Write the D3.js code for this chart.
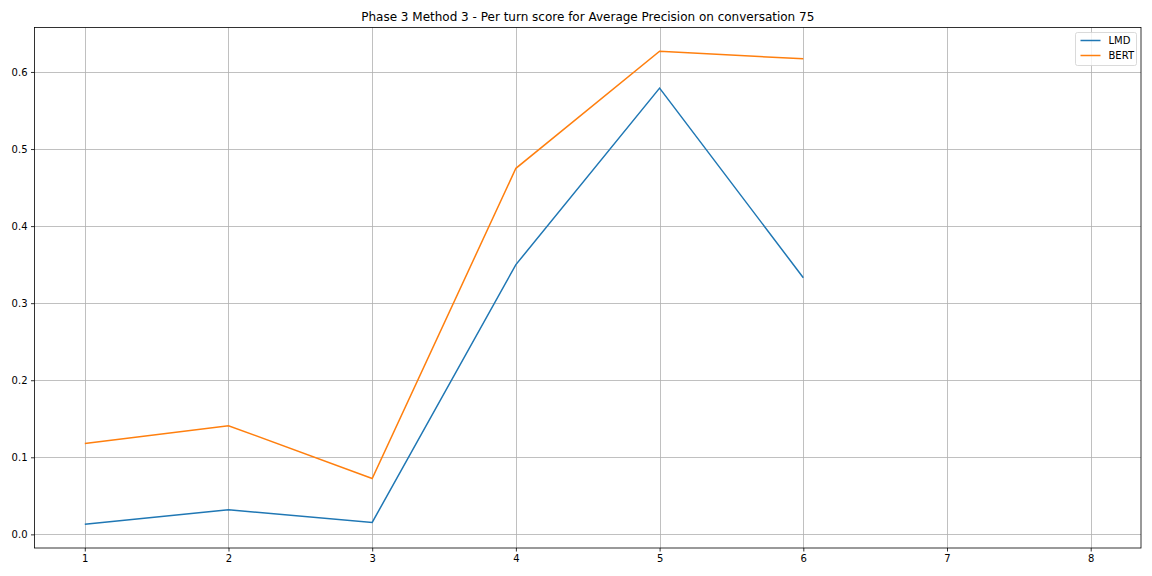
<!DOCTYPE html>
<html>
<head>
<meta charset="utf-8">
<script src="https://cdn.jsdelivr.net/npm/d3@7"></script>
<style>
  body { margin: 0; background: #fff; }
  text { font-family: "DejaVu Sans", sans-serif; }
</style>
</head>
<body>
<div class="svg-container"></div>
<script>
const turns = [1, 2, 3, 4, 5, 6];
const lmd = [0.013, 0.032, 0.0155, 0.350, 0.579, 0.333];
const bert = [0.118, 0.141, 0.0725, 0.475, 0.627, 0.617];
const xTicks = [1, 2, 3, 4, 5, 6, 7, 8];
const yTicks = [0.0, 0.1, 0.2, 0.3, 0.4, 0.5, 0.6];
const seriesNames = ['LMD', 'BERT'];
const colors = ['#1f77b4', '#ff7f0e'];

const outerWidth = 1152;
const outerHeight = 576;
const margin = { left: 34.5, top: 27.5, right: 11, bottom: 28 };

const svg = d3.select('.svg-container')
.append('svg')
.attr('width', outerWidth)
.attr('height', outerHeight);

const xScale = d3.scaleLinear()
.domain([0.65, 8.35])
.range([margin.left, outerWidth - margin.right]);

const yScale = d3.scaleLinear()
.domain([-0.0177, 0.6577])
.range([outerHeight - margin.bottom, margin.top]);

// grid
svg.append('g')
.selectAll('line')
.data(xTicks)
.enter()
.append('line')
.attr('x1', d => Math.round(xScale(d)) + 0.5)
.attr('x2', d => Math.round(xScale(d)) + 0.5)
.attr('y1', margin.top)
.attr('y2', outerHeight - margin.bottom)
.attr('stroke', '#b0b0b0')
.attr('stroke-width', 0.8);

svg.append('g')
.selectAll('line')
.data(yTicks)
.enter()
.append('line')
.attr('x1', margin.left)
.attr('x2', outerWidth - margin.right)
.attr('y1', d => Math.round(yScale(d)) + 0.5)
.attr('y2', d => Math.round(yScale(d)) + 0.5)
.attr('stroke', '#b0b0b0')
.attr('stroke-width', 0.8);

// lines
const line = d3.line()
.x((d, i) => xScale(turns[i]))
.y(d => yScale(d));

[lmd, bert].forEach((s, k) => {
  svg.append('path')
  .datum(s)
  .attr('d', line)
  .attr('fill', 'none')
  .attr('stroke', colors[k])
  .attr('stroke-width', 1.5);
});

// axes
const xAxis = d3.axisBottom(xScale).tickValues(xTicks).tickSize(3.5).tickPadding(3.5).tickFormat(d3.format('d'));
const yAxis = d3.axisLeft(yScale).tickValues(yTicks).tickSize(3.5).tickPadding(3.5).tickFormat(d3.format('.1f'));

const gx = svg.append('g')
.attr('transform', `translate(0, ${outerHeight - margin.bottom})`)
.call(xAxis);
const gy = svg.append('g')
.attr('transform', `translate(${margin.left}, 0)`)
.call(yAxis);
[gx, gy].forEach(g => {
  g.select('.domain').remove();
  g.selectAll('text').style('font-size', '10px').attr('fill', '#000');
  g.selectAll('line').attr('stroke', '#000').attr('stroke-width', 0.8);
});

// frame
svg.append('rect')
.attr('x', margin.left)
.attr('y', margin.top)
.attr('width', outerWidth - margin.right - margin.left)
.attr('height', outerHeight - margin.bottom - margin.top)
.attr('fill', 'none')
.attr('stroke', '#000')
.attr('stroke-width', 0.8);

// title
svg.append('text')
.attr('x', (margin.left + outerWidth - margin.right) / 2)
.attr('y', 21)
.attr('text-anchor', 'middle')
.style('font-size', '12px')
.text('Phase 3 Method 3 - Per turn score for Average Precision on conversation 75');

// legend
const legend = svg.append('g')
.attr('transform', `translate(1075.5, 32.5)`);

legend.append('rect')
.attr('width', 61)
.attr('height', 33)
.attr('rx', 2)
.attr('fill', 'rgba(255,255,255,0.8)')
.attr('stroke', '#d0d0d0')
.attr('stroke-width', 0.8);

seriesNames.forEach((name, k) => {
  const row = legend.append('g').attr('transform', `translate(0, ${8 + k * 15})`);
  row.append('line')
  .attr('x1', 5).attr('x2', 25)
  .attr('stroke', colors[k])
  .attr('stroke-width', 1.5);
  row.append('text')
  .attr('x', 33)
  .attr('y', 3.5)
  .style('font-size', '10px')
  .text(name);
});
</script>
</body>
</html>
